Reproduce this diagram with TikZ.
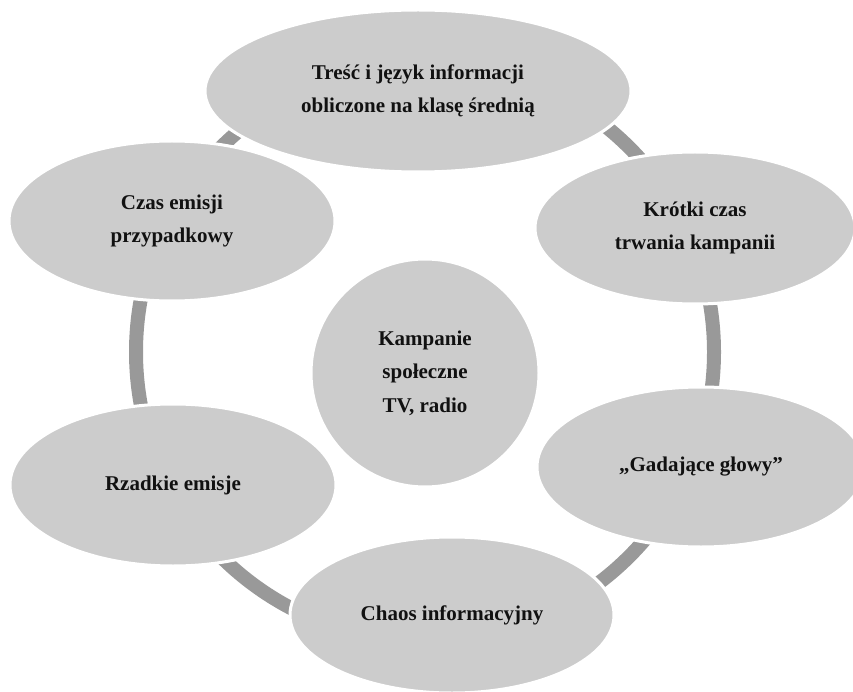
\documentclass[tikz,border=0pt]{standalone}
\usepackage{fontspec}
\setmainfont{Liberation Serif}
\usetikzlibrary{shapes.geometric}
\definecolor{fillgray}{HTML}{CCCCCC}
\definecolor{ringgray}{HTML}{999999}
\definecolor{txt}{HTML}{111111}
\begin{document}
\begin{tikzpicture}[x=1pt,y=-1pt,
  bub/.style={ellipse, fill=fillgray, draw=white, line width=3pt, inner sep=0pt,
    align=center, text=txt, font=\bfseries\fontsize{21}{33.5}\selectfont},
  ringstyle/.style={circle, draw=ringgray, line width=14pt, inner sep=0pt}
]
\useasboundingbox (0,0) rectangle (853,692);
\clip (0,0) rectangle (853,692);
\node[ringstyle, minimum size=578pt] (ring) at (425,352) {};
\node[bub, minimum width=426pt, minimum height=162pt] (top) at (418,91)
  {Treść i język informacji\\obliczone na klasę średnią};
\node[bub, minimum width=326pt, minimum height=160pt] (ul) at (172,221)
  {Czas emisji\\przypadkowy};
\node[bub, minimum width=320pt, minimum height=152pt] (ur) at (695,228)
  {Krótki czas\\trwania kampanii};
\node[bub, minimum width=328pt, minimum height=160pt] (lr) at (701,467)
  {„Gadające głowy”};
\node[bub, minimum width=326pt, minimum height=162pt] (ll) at (173,485)
  {Rzadkie emisje};
\node[bub, minimum width=324pt, minimum height=156pt] (bot) at (452,615)
  {Chaos informacyjny};
\node[bub, circle, minimum size=228pt] (mid) at (425,373)
  {Kampanie\\społeczne\\TV, radio};
\end{tikzpicture}
\end{document}
